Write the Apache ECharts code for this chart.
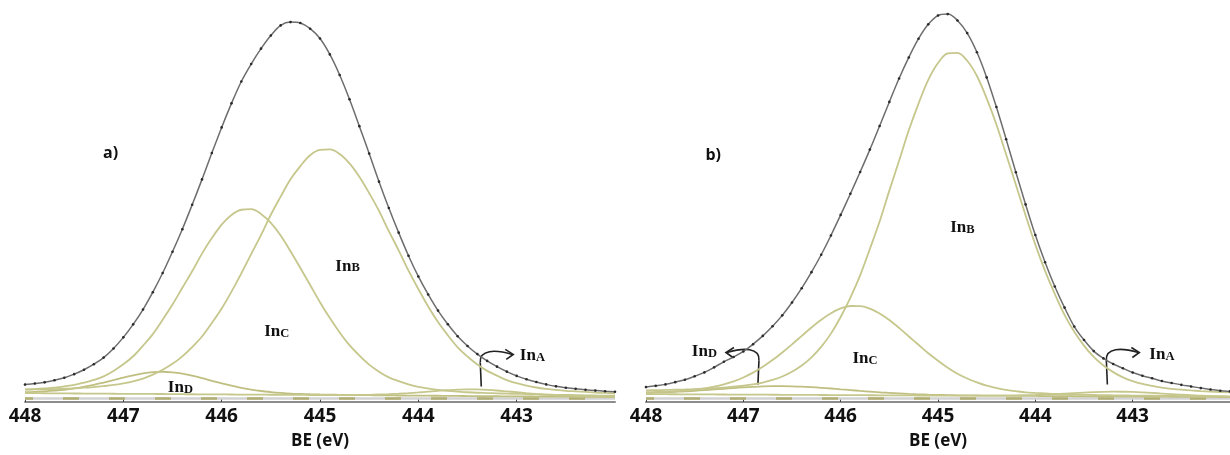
<!DOCTYPE html>
<html>
<head>
<meta charset="utf-8">
<script src="https://cdn.jsdelivr.net/npm/echarts@6/dist/echarts.min.js"></script>
<style>
  html, body { margin: 0; padding: 0; background: #fff; overflow: hidden; }
  #chart { width: 1230px; height: 455px; }
</style>
</head>
<body>
<div id="chart"></div>
<script>
// ---------- data (BE in eV, intensity in arbitrary units) ----------
const energy = [448.0, 447.9, 447.8, 447.7, 447.6, 447.5, 447.4, 447.3, 447.2, 447.1,
  447.0, 446.9, 446.8, 446.7, 446.6, 446.5, 446.4, 446.3, 446.2, 446.1,
  446.0, 445.9, 445.8, 445.7, 445.6, 445.5, 445.4, 445.3, 445.2, 445.1,
  445.0, 444.9, 444.8, 444.7, 444.6, 444.5, 444.4, 444.3, 444.2, 444.1,
  444.0, 443.9, 443.8, 443.7, 443.6, 443.5, 443.4, 443.3, 443.2, 443.1,
  443.0, 442.9, 442.8, 442.7, 442.6, 442.5, 442.4, 442.3, 442.2, 442.1, 442.0];
const tickLabels = ['448', '447', '446', '445', '444', '443'];

// panel a)
const envelopeA = [17.9, 19.0, 20.2, 22.3, 24.9, 28.6, 33.1, 38.8, 45.6, 55,
  66.4, 79.8, 95, 112.8, 132.5, 154.3, 177.5, 202.6, 228.7, 255.8,
  282.1, 306.8, 329.3, 347.2, 363, 376.5, 386.9, 390.3, 389.3, 383.5,
  373.4, 357.1, 336, 311, 283.4, 255.2, 226.4, 199.3, 174, 150.3,
  129, 110.5, 93.9, 79.9, 67.6, 57.6, 49.2, 42.2, 36.3, 31.2,
  26.8, 23.4, 20.5, 18.1, 16.1, 14.7, 13.5, 12.5, 11.7, 11.1, 10.6];
const inB_A = [12.7, 12.9, 13.1, 13.3, 13.6, 14.1, 14.7, 15.3, 16.3, 17.5,
  19.2, 21.3, 24.1, 28.1, 33.1, 39.2, 46.9, 56.4, 67.3, 81.1,
  96, 113.4, 132.2, 152, 171.4, 192.4, 211, 228.8, 242.4, 253.5,
  259, 259.5, 254.8, 245.1, 231.4, 214.6, 196.4, 175.5, 155.8, 134.9,
  116.1, 98.1, 82.1, 68.6, 56.2, 46.7, 38.5, 32, 27.1, 22.5,
  19.3, 16.8, 14.9, 13.5, 12.4, 11.5, 10.9, 10.3, 9.7, 9.3, 9.0];
const inC_A = [13, 13.3, 13.9, 14.7, 16.1, 17.5, 19.9, 22.7, 26.3, 31.9,
  38.7, 47, 57.9, 69.7, 84.5, 100.1, 117.3, 134.3, 152.4, 168.4,
  182.3, 192.1, 197.5, 198.1, 193.2, 184, 171, 154.8, 137.6, 120.2,
  102.5, 86.2, 71.5, 58.4, 47.8, 38.4, 31.2, 25.3, 21.4, 18.1,
  15.5, 13.9, 12.5, 11.5, 10.7, 10, 9.5, 9.2, 8.9, 8.6,
  8.4, 8.1, 7.8, 7.6, 7.4, 7.25, 7.1, 6.9, 6.7, 6.55, 6.4];
const inD_A = [10.2, 10.45, 11, 11.7, 12.6, 13.95, 15.7, 17.65, 20, 22.5,
  25.1, 27.4, 29.4, 30.7, 31.1, 30.5, 29.1, 27, 24.6, 21.8,
  19.2, 16.7, 14.6, 12.75, 11.3, 10.25, 9.4, 8.7, 8.3, 7.95,
  7.7, 7.55, 7.4, 7.2, 7.1, 7.0, 6.9, 6.85, 6.7, 6.65,
  6.5, 6.45, 6.4, 6.3, 6.2, 6.1, 6.0, 5.95, 5.9, 5.85,
  5.8, 5.7, 5.6, 5.55, 5.5, 5.45, 5.4, 5.3, 5.2, 5.15, 5.1];
const inA_A = [9.1, 9.05, 9.0, 8.9, 8.8, 8.75, 8.7, 8.65, 8.6, 8.5,
  8.4, 8.35, 8.3, 8.25, 8.2, 8.1, 8.0, 7.95, 7.9, 7.85,
  7.8, 7.7, 7.6, 7.55, 7.5, 7.45, 7.4, 7.35, 7.3, 7.2,
  7.2, 7.2, 7.2, 7.2, 7.2, 7.4, 7.7, 8.05, 8.5, 9.1,
  9.8, 10.65, 11.5, 12.15, 12.7, 13.0, 12.9, 12.45, 11.8, 10.95,
  10.1, 9.1, 8.2, 7.45, 6.9, 6.4, 6.1, 5.75, 5.5, 5.35, 5.2];

// panel b)
const envelopeB = [15.3, 16.6, 18.1, 20.4, 22.9, 26.4, 30.4, 35.6, 41.3, 46.2,
  51.9, 59.4, 67.9, 77.8, 89, 102.2, 116.9, 133.4, 151.3, 171.1,
  192.2, 214, 236.3, 259.3, 283.6, 308.3, 332.3, 354, 373.2, 388,
  397, 398.5, 392, 379, 359.3, 333.5, 303, 270, 236.1, 203,
  171.5, 143.6, 118.7, 97, 77.5, 63.7, 52.3, 44.8, 39, 34.6,
  30.3, 27, 24.4, 21.5, 19.5, 17.6, 16, 14.3, 12.9, 11.6, 10.9];
const inB_B = [12, 12.15, 12.4, 12.65, 12.9, 13.25, 13.6, 14.15, 14.8, 15.65,
  16.7, 18.05, 20.0, 22.65, 26.2, 31.05, 37.4, 45.95, 56.7, 70.25,
  87.3, 107.25, 130.1, 157.25, 185.4, 217.15, 247.8, 279.15, 306.6, 330.95,
  348.2, 358.05, 358.7, 350.55, 334.9, 311.95, 285.1, 254.35, 223.2, 191.75,
  161.7, 134.75, 111.1, 89.55, 72.2, 57.95, 46.3, 37.45, 30.7, 25.35,
  21.4, 18.55, 16.5, 14.75, 13.4, 12.65, 11.9, 11.25, 10.7, 10.25, 9.8];
const inC_B = [10.0, 10.25, 10.5, 11.05, 11.7, 12.65, 14.0, 15.7, 18.1, 21.25,
  25.2, 30.15, 36.2, 43.05, 50.9, 59.25, 67.9, 76.55, 84.4, 91.15,
  96.1, 98.65, 98.6, 95.95, 90.9, 84.15, 76.1, 67.35, 58.8, 50.05,
  42.4, 35.15, 29.0, 24.15, 20.1, 16.75, 14.4, 12.35, 11.1, 9.95,
  9.3, 8.75, 8.2, 7.85, 7.6, 7.35, 7.2, 7.05, 6.9, 6.75,
  6.6, 6.5, 6.4, 6.3, 6.2, 6.1, 6.0, 5.9, 5.8, 5.7, 5.6];
const inD_B = [9.3, 9.6, 10.0, 10.45, 10.9, 11.55, 12.2, 12.95, 13.6, 14.35,
  15.0, 15.55, 16.0, 16.25, 16.3, 16.15, 15.8, 15.25, 14.6, 13.85,
  13.0, 12.25, 11.4, 10.65, 9.9, 9.35, 8.8, 8.3, 7.9, 7.55,
  7.3, 7.1, 6.9, 6.8, 6.7, 6.6, 6.5, 6.45, 6.3, 6.25,
  6.2, 6.1, 6.0, 6.0, 5.9, 5.85, 5.8, 5.75, 5.7, 5.65,
  5.6, 5.55, 5.5, 5.45, 5.4, 5.35, 5.3, 5.25, 5.2, 5.15, 5.1];
const inA_B = [8.1, 8.05, 8.0, 7.95, 7.9, 7.85, 7.8, 7.75, 7.7, 7.65,
  7.6, 7.55, 7.5, 7.45, 7.4, 7.35, 7.3, 7.25, 7.2, 7.15,
  7.1, 7.05, 7.0, 6.95, 6.9, 6.85, 6.8, 6.75, 6.7, 6.65,
  6.6, 6.6, 6.6, 6.6, 6.6, 6.55, 6.6, 6.65, 6.8, 7.05,
  7.3, 7.7, 8.1, 8.65, 9.2, 9.65, 10.1, 10.45, 10.6, 10.55,
  10.3, 9.85, 9.3, 8.7, 8.1, 7.45, 7.0, 6.45, 6.1, 5.75, 5.5];

const baseEnergy = [448.0, 442.0];
const baseLevel = [3.5, 3.5];

// ---------- helpers ----------
const zip = (xs, ys) => xs.map((x, i) => [x, ys[i]]);
const compColor = '#c6c78c';

function panelSeries(idx, env, b, c, d, a) {
  const comp = (name, arr, color) => ({
    name, type: 'line', xAxisIndex: idx, yAxisIndex: idx,
    data: zip(energy, arr), smooth: 0.35, showSymbol: false,
    lineStyle: { color: color || compColor, width: 1.8 }, z: 3
  });
  return [
    { type: 'line', xAxisIndex: idx, yAxisIndex: idx, data: zip(baseEnergy, baseLevel),
      showSymbol: false, lineStyle: { color: '#d2d2d2', width: 2.5 }, z: 1 },
    { type: 'line', xAxisIndex: idx, yAxisIndex: idx, data: zip(baseEnergy, baseLevel),
      showSymbol: false, lineStyle: { color: '#b1af73', width: 2.5, type: [16, 30], dashOffset: 8 }, z: 1 },
    comp('InD', d, '#c0bf82'),
    comp('InA', a),
    comp('InC', c),
    comp('InB', b),
    { name: 'envelope', type: 'line', xAxisIndex: idx, yAxisIndex: idx,
      data: zip(energy, env), smooth: 0.35, showSymbol: true, symbol: 'circle', symbolSize: 2.6,
      itemStyle: { color: '#2a2a2a' }, lineStyle: { color: '#6d6d6d', width: 1.5 }, z: 5 }
  ];
}

function xAxisFor(idx) {
  return {
    type: 'value', gridIndex: idx, min: 442, max: 448, interval: 1, inverse: true,
    name: 'BE (eV)', nameLocation: 'middle', nameGap: 31,
    nameTextStyle: { fontFamily: 'Open Sans', fontWeight: 'bold', fontSize: 17, color: '#111' },
    axisLine: { show: true, lineStyle: { color: '#8c8c8c', width: 2 } },
    axisTick: { show: true, inside: true, length: 3, lineStyle: { color: '#444', width: 1 } },
    axisLabel: {
      showMinLabel: false, margin: 5,
      fontFamily: 'Open Sans', fontWeight: 'bold', fontSize: 19, color: '#111',
      formatter: v => tickLabels.indexOf(String(Math.round(v))) >= 0 ? String(Math.round(v)) : ''
    },
    splitLine: { show: false }
  };
}
function yAxisFor(idx) {
  return { type: 'value', gridIndex: idx, min: 0, max: 413, show: false, splitLine: { show: false } };
}

const chart = echarts.init(document.getElementById('chart'));
chart.setOption({
  animation: false,
  backgroundColor: '#ffffff',
  grid: [
    { left: 25, width: 590, top: 0, bottom: 42 },
    { left: 646, width: 596, top: 0, bottom: 42 }
  ],
  xAxis: [xAxisFor(0), xAxisFor(1)],
  yAxis: [yAxisFor(0), yAxisFor(1)],
  series: [].concat(
    panelSeries(0, envelopeA, inB_A, inC_A, inD_A, inA_A),
    panelSeries(1, envelopeB, inB_B, inC_B, inD_B, inA_B)
  )
});

// ---------- annotations anchored in data coordinates ----------
const serif = { fontFamily: 'Liberation Serif', fontWeight: 'bold', fill: '#111' };
const rich = {
  a: Object.assign({ fontSize: 17, lineHeight: 18, verticalAlign: 'bottom' }, serif),
  b: Object.assign({ fontSize: 12.5, lineHeight: 18, verticalAlign: 'bottom' }, serif)
};
const labels = [
  { g: 0, at: [444.72, 140], t: 'B' },
  { g: 0, at: [445.44, 73], t: 'C' },
  { g: 0, at: [446.42, 15], t: 'D' },
  { g: 0, at: [442.84, 48], t: 'A' },
  { g: 1, at: [444.75, 180], t: 'B' },
  { g: 1, at: [445.75, 45], t: 'C' },
  { g: 1, at: [447.40, 52], t: 'D' },
  { g: 1, at: [442.70, 49], t: 'A' }
];
const panelTags = [
  { g: 0, at: [447.13, 255], t: 'a)' },
  { g: 1, at: [447.31, 253], t: 'b)' }
];
const arrows = [
  { g: 0, at: [443.36, 16], dir: 1 },
  { g: 1, at: [446.85, 18], dir: -1 },
  { g: 1, at: [443.26, 18], dir: 1 }
];
const px = (g, p) => chart.convertToPixel({ gridIndex: g }, p);
const graphics = [];
const ink = { stroke: '#222', lineWidth: 1.6, fill: null };
labels.forEach(l => {
  const p = px(l.g, l.at);
  graphics.push({ type: 'text', x: p[0], y: p[1], silent: true,
    style: { text: '{a|In}{b|' + l.t + '}', rich, textAlign: 'center', textVerticalAlign: 'middle' } });
});
panelTags.forEach(l => {
  const p = px(l.g, l.at);
  graphics.push({ type: 'text', x: p[0], y: p[1], silent: true,
    style: { text: l.t, font: 'bold 16px "Open Sans"', fill: '#111', textAlign: 'center', textVerticalAlign: 'middle' } });
});
arrows.forEach(a => {
  const p = px(a.g, a.at);
  const d = a.dir;
  graphics.push({ type: 'line', x: p[0], y: p[1], silent: true,
    shape: { x1: 0, y1: 0, x2: -1 * d, y2: -24 }, style: ink });
  graphics.push({ type: 'bezierCurve', x: p[0], y: p[1], silent: true,
    shape: { x1: -1 * d, y1: -24, cpx1: -2 * d, cpy1: -37, cpx2: 14 * d, cpy2: -37, x2: 31 * d, y2: -32 },
    style: ink });
  graphics.push({ type: 'polyline', x: p[0], y: p[1], silent: true,
    shape: { points: [[24 * d, -37], [32 * d, -32], [25 * d, -27]] }, style: ink });
});
chart.setOption({ graphic: graphics });
</script>
</body>
</html>
